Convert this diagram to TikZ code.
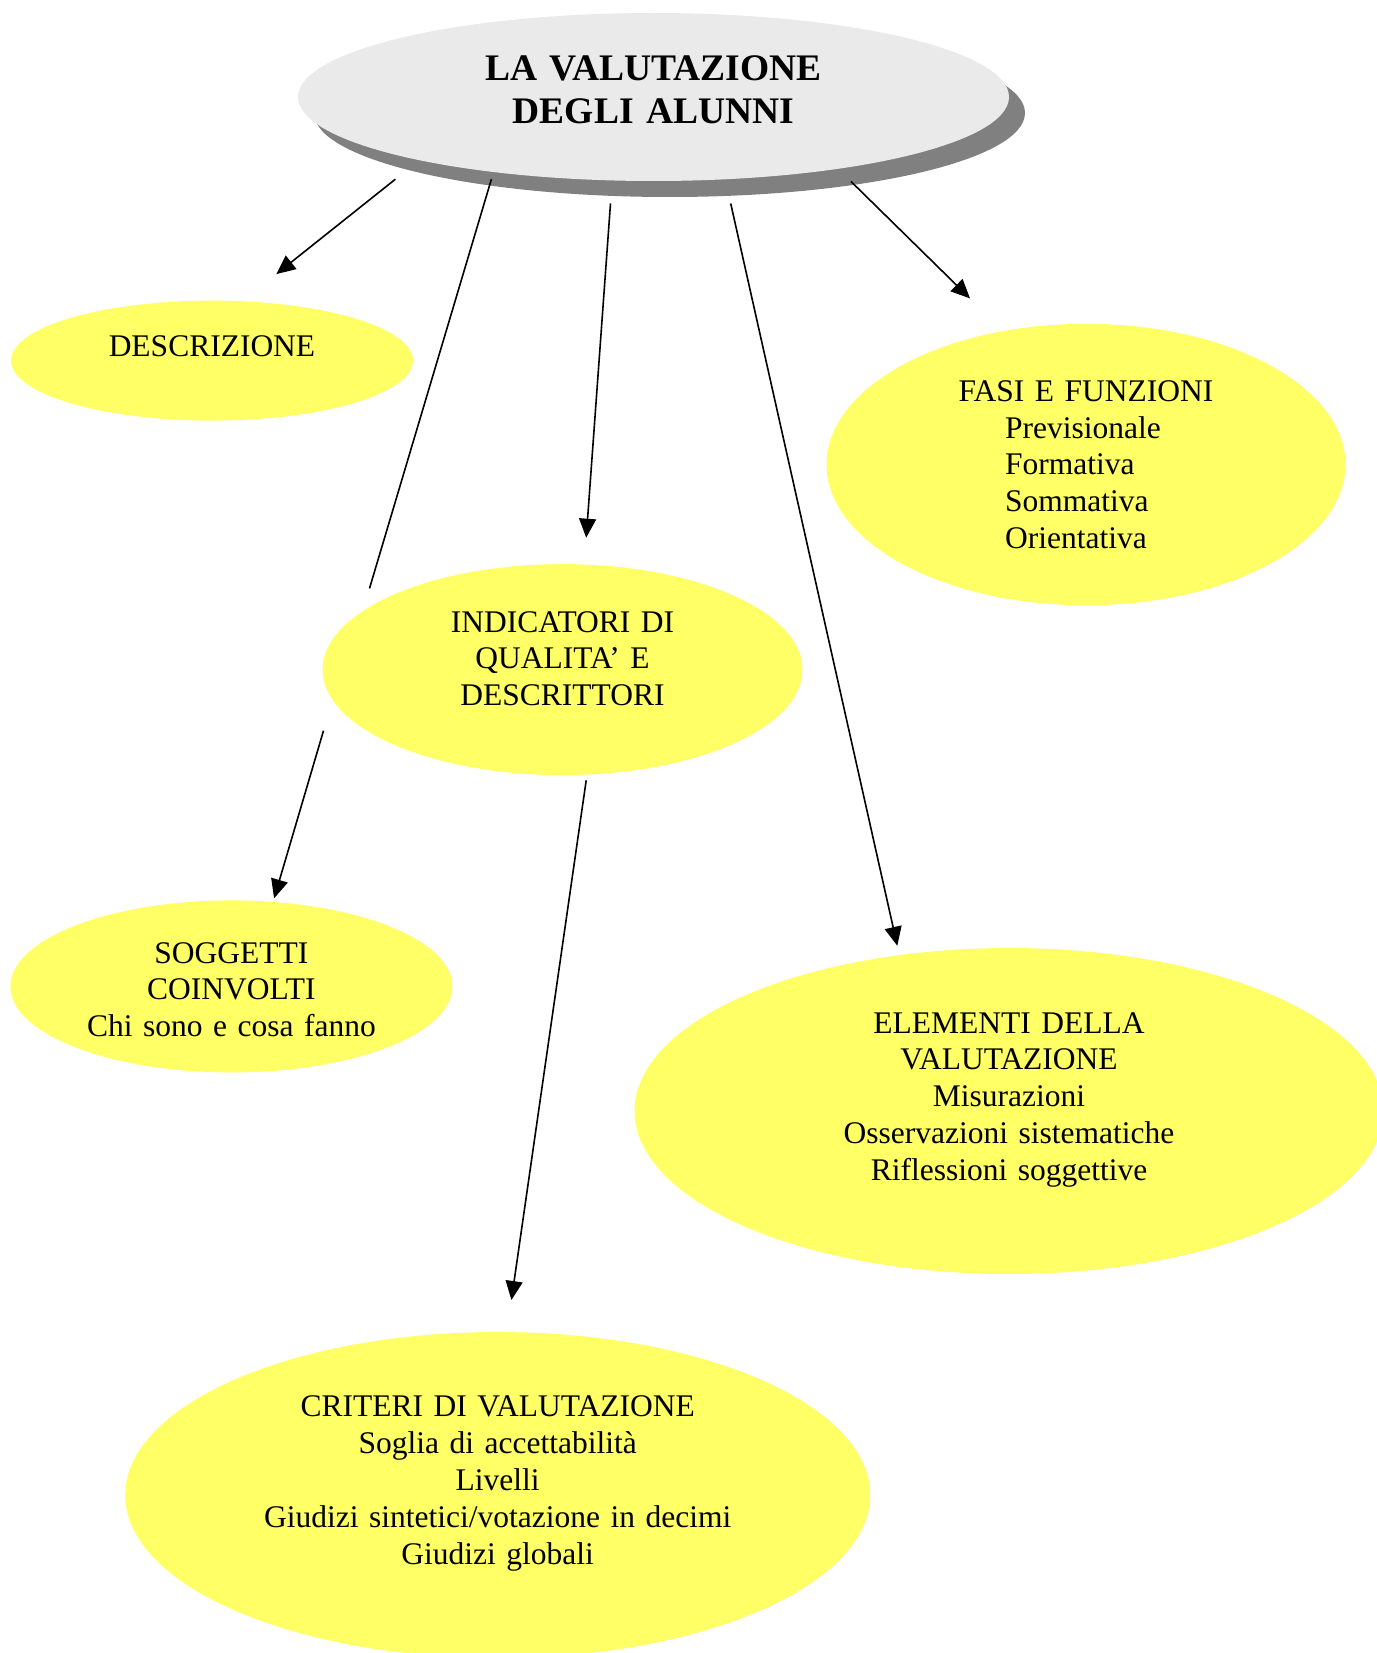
\documentclass[tikz,border=0pt]{standalone}
\usepackage{fontspec}
\setmainfont{Liberation Serif}
\usetikzlibrary{arrows.meta,shapes.geometric}
\definecolor{ovalyellow}{RGB}{255,255,102}
\definecolor{titlegray}{RGB}{234,234,234}
\definecolor{shadowgray}{RGB}{128,128,128}
\begin{document}
\begin{tikzpicture}[x=1pt,y=-1pt,
  oval/.style={ellipse, draw=none, fill=ovalyellow, inner sep=0pt, outer sep=0pt},
  txt/.style={font=\fontsize{31.5}{36.9}\selectfont, text width=720pt, align=center, inner sep=0pt, anchor=base},
  listtxt/.style={font=\fontsize{31.5}{36.9}\selectfont, text width=300pt, align=left, inner sep=0pt, anchor=base west},
  titletxt/.style={font=\fontsize{37.5}{42.5}\selectfont\bfseries, text width=700pt, align=center, inner sep=0pt, anchor=base},
  link/.style={line width=1.6pt, -{Triangle[length=19pt,width=17pt]}},
  plainlink/.style={line width=1.6pt}
]
\useasboundingbox (0,0) rectangle (1376,1653);

% title with shadow
\node[oval, fill=shadowgray, minimum width=711pt, minimum height=168pt] (tshadow) at (669.5,113) {};
\node[oval, fill=titlegray, minimum width=711pt, minimum height=168pt] (title) at (653.5,97) {};

% connector end points
\coordinate (a1s) at (395.4,179.2);
\coordinate (a1e) at (276.3,274.1);
\coordinate (a2s) at (491.4,179.2);
\coordinate (a2m1) at (369.5,588.4);
\coordinate (a2m2) at (323.5,730.7);
\coordinate (a2e) at (274.1,898.3);
\coordinate (a3s) at (610.5,203.5);
\coordinate (a3e) at (586.2,537.7);
\coordinate (a4s) at (730.7,203.5);
\coordinate (a4e) at (897.3,945.8);
\coordinate (a5s) at (850.9,181.4);
\coordinate (a5e) at (970.0,298.4);
\coordinate (a6s) at (586.2,780.3);
\coordinate (a6e) at (511.4,1300.0);

\draw[link] (a1s) -- (a1e);
\draw[plainlink] (a2s) -- (a2m1);
\draw[link] (a2m2) -- (a2e);
\draw[link] (a3s) -- (a3e);
\draw[link] (a4s) -- (a4e);
\draw[link] (a5s) -- (a5e);
\draw[link] (a6s) -- (a6e);

% ovals
\node[oval, minimum width=402pt, minimum height=120pt] (desc) at (212,360.6) {};
\node[oval, minimum width=519pt, minimum height=281.5pt] (fasi) at (1086,464.5) {};
\node[oval, minimum width=480pt, minimum height=211pt] (ind) at (562.5,669.6) {};
\node[oval, minimum width=442pt, minimum height=172pt] (sogg) at (231.4,986.4) {};
\node[oval, minimum width=749pt, minimum height=326pt] (elem) at (1009,1111) {};
\node[oval, minimum width=745pt, minimum height=326pt] (crit) at (497.7,1495) {};

% texts
\node[titletxt] (titleT) at (653.5,81) {LA VALUTAZIONE\\DEGLI ALUNNI};
\node[txt] (descT) at (212,356) {DESCRIZIONE};
\node[txt] (fasiT) at (1086,401) {FASI E FUNZIONI};
\node[listtxt] (fasiL) at (1005,438) {Previsionale\\Formativa\\Sommativa\\Orientativa};
\node[txt] (indT) at (562.5,632) {INDICATORI DI\\QUALITA’ E\\DESCRITTORI};
\node[txt] (soggT) at (231.4,963) {SOGGETTI\\COINVOLTI\\Chi sono e cosa fanno};
\node[txt] (elemT) at (1009,1033) {ELEMENTI DELLA\\VALUTAZIONE\\Misurazioni\\Osservazioni sistematiche\\Riflessioni soggettive};
\node[txt] (critT) at (497.7,1416.5) {CRITERI DI VALUTAZIONE\\Soglia di accettabilità\\Livelli\\Giudizi sintetici/votazione in decimi\\Giudizi globali};
\end{tikzpicture}
\end{document}
